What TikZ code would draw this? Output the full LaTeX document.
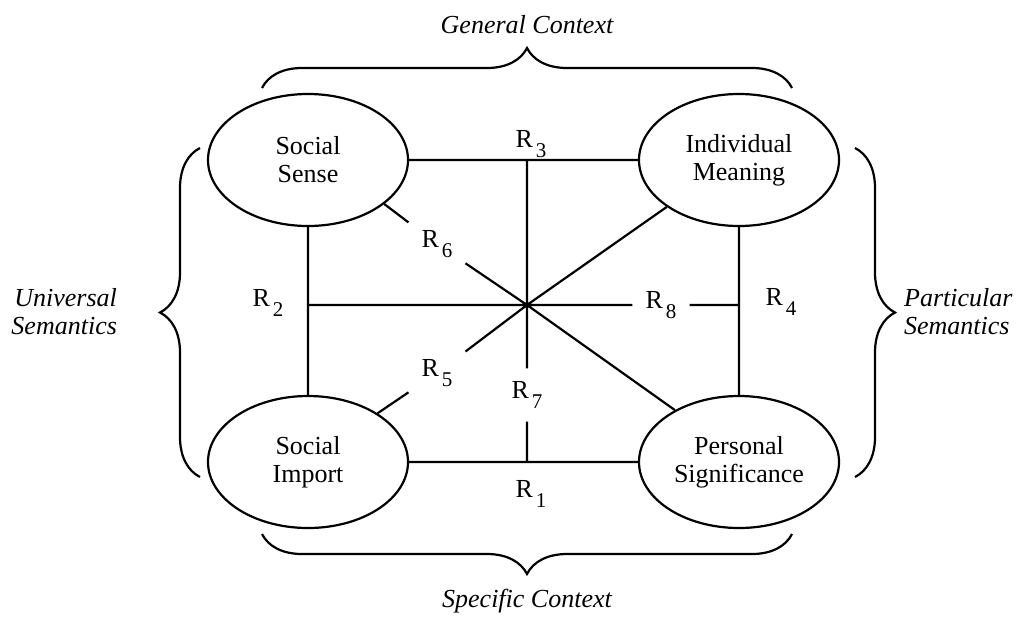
\documentclass[tikz,border=0pt]{standalone}
\usepackage{fontspec}
\setmainfont{Liberation Serif}
\usetikzlibrary{shapes.geometric,decorations.pathreplacing}
\tikzset{
	concept/.style={ellipse, draw, minimum width=100pt, minimum height=66pt, inner sep=0pt, align=center},
	rel/.style={inner sep=6pt},
	side/.style={font=\fontsize{13}{14}\selectfont\itshape, inner sep=0pt},
	brc/.style={decorate, decoration={brace, amplitude=20pt}},
}
\newcommand{\relname}[1]{R\kern1.5pt\raisebox{-5pt}{\fontsize{10.5}{12}\selectfont #1}}

\begin{document}
\begin{tikzpicture}[x=0.5pt, y=-0.5pt, line width=1.1pt, every node/.style={font=\fontsize{13}{14}\selectfont}]
		\useasboundingbox (0,0) rectangle (1016,616);

		\node[concept] (ss) at (308,160) {Social\\Sense};
		\node[concept] (im) at (739,160) {Individual\\Meaning};
		\node[concept] (si) at (308,462) {Social\\Import};
		\node[concept] (ps) at (739,462) {Personal\\Significance};

		\coordinate (ctr) at (527,305);
		\coordinate (top) at (527,160);
		\coordinate (bot) at (527,462);
		\coordinate (lft) at (308,305);
		\coordinate (rgt) at (739,305);

		\node[rel] (r1) at (531,494) {\relname{1}};
		\node[rel] (r2) at (268,303) {\relname{2}};
		\node[rel] (r3) at (531,144) {\relname{3}};
		\node[rel] (r4) at (781,302) {\relname{4}};
		\node[rel] (r5) at (437,373) {\relname{5}};
		\node[rel] (r6) at (437,244) {\relname{6}};
		\node[rel] (r7) at (527,395) {\relname{7}};
		\node[rel] (r8) at (661,305) {\relname{8}};

		\draw (ss) -- (im)
		(si) -- (ps)
		(ss) -- (si)
		(im) -- (ps)
		(top) -- (ctr) -- (r7) -- (bot)
		(lft) -- (ctr) -- (r8) -- (rgt)
		(ss.-30) -- (r6) -- (ctr) -- (ps.141)
		(im.-147) -- (ctr) -- (r5) -- (si.35);

		\draw[brc] (262,88) -- (792,88);
		\draw[brc] (792,534) -- (262,534);
		\draw[brc] (200,477) -- (200,148);
		\draw[brc] (855,148) -- (855,477);

		\node[side] (gen) at (527,25) {General Context};
		\node[side] (spec) at (527,601) {Specific Context};
		\node[side, anchor=east, align=right] (univ) at (118,312) {Universal\\Semantics};
		\node[side, anchor=west, align=left] (part) at (903,312) {Particular\\Semantics};
	\end{tikzpicture}
\end{document}
